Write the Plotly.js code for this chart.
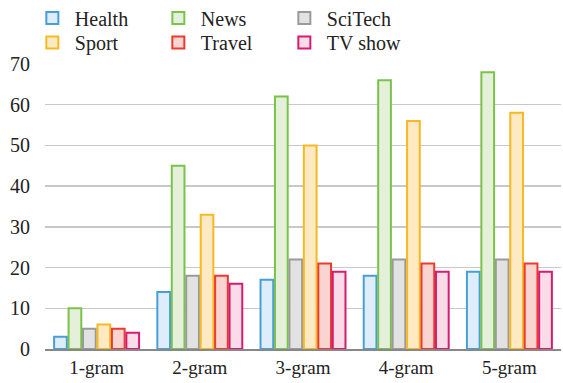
<!DOCTYPE html>
<html><head><meta charset="utf-8">
<script src="https://cdn.plot.ly/plotly-3.0.1.min.js"></script>
<style>html,body{margin:0;padding:0;background:#fff}</style>
</head><body><div id="chart" style="width:563px;height:383px"></div>
<script>
const categories = ["1-gram","2-gram","3-gram","4-gram","5-gram"];
const health  = [3, 14, 17, 18, 19];
const news    = [10, 45, 62, 66, 68];
const scitech = [5, 18, 22, 22, 22];
const sport   = [6, 33, 50, 56, 58];
const travel  = [5, 18, 21, 21, 21];
const tvshow  = [4, 16, 19, 19, 19];
const seriesNames = ["Health","News","SciTech","Sport","Travel","TV show"];
const seriesData = [health, news, scitech, sport, travel, tvshow];
const lineColors = ["#4a9ed8","#7bc24b","#9a9a9a","#f6b923","#ec3a2f","#d51c73"];
const fillColors = ["#ddeefa","#e4f0d9","#e2e2e2","#fdeac2","#f9d4d0","#fadce8"];

const FONT = "'Liberation Serif', 'Times New Roman', serif";

const traces = seriesNames.map((n,i)=>({
  type:'bar', name:n, x:categories, y:seriesData[i],
  marker:{color:fillColors[i], line:{color:lineColors[i], width:2}},
  legend: i<3 ? 'legend' : 'legend2',
  hoverinfo:'none'
}));

const legendCommon = {
  orientation:'h', xanchor:'left', yanchor:'middle',
  xref:'container', yref:'container',
  font:{family:FONT, size:20, color:'#222'},
  entrywidth:76, entrywidthmode:'pixels', itemwidth:35,
  bgcolor:'rgba(0,0,0,0)', traceorder:'normal'
};

const layout = {
  width:563, height:383,
  margin:{l:45, r:2, t:64, b:34},
  paper_bgcolor:'#fff', plot_bgcolor:'#fff',
  font:{family:FONT, size:20, color:'#222'},
  barmode:'group', bargap:0.16, bargroupgap:0.12,
  showlegend:true,
  legend:Object.assign({}, legendCommon, {x:0.053, y:0.953}),
  legend2:Object.assign({}, legendCommon, {x:0.053, y:0.889}),
  xaxis:{showline:true, linecolor:'#888', linewidth:2, ticks:'', showgrid:false,
         tickfont:{family:FONT, size:19, color:'#222'}, fixedrange:true},
  yaxis:{range:[0,70], dtick:10, showgrid:true, gridcolor:'#c8c8c8', gridwidth:1.3,
         zeroline:false, showline:false, ticks:'', ticklabelstandoff:14,
         tickfont:{family:FONT, size:20, color:'#222'}, fixedrange:true}
};
Plotly.newPlot('chart', traces, layout, {displayModeBar:false, staticPlot:true});
</script></body></html>
